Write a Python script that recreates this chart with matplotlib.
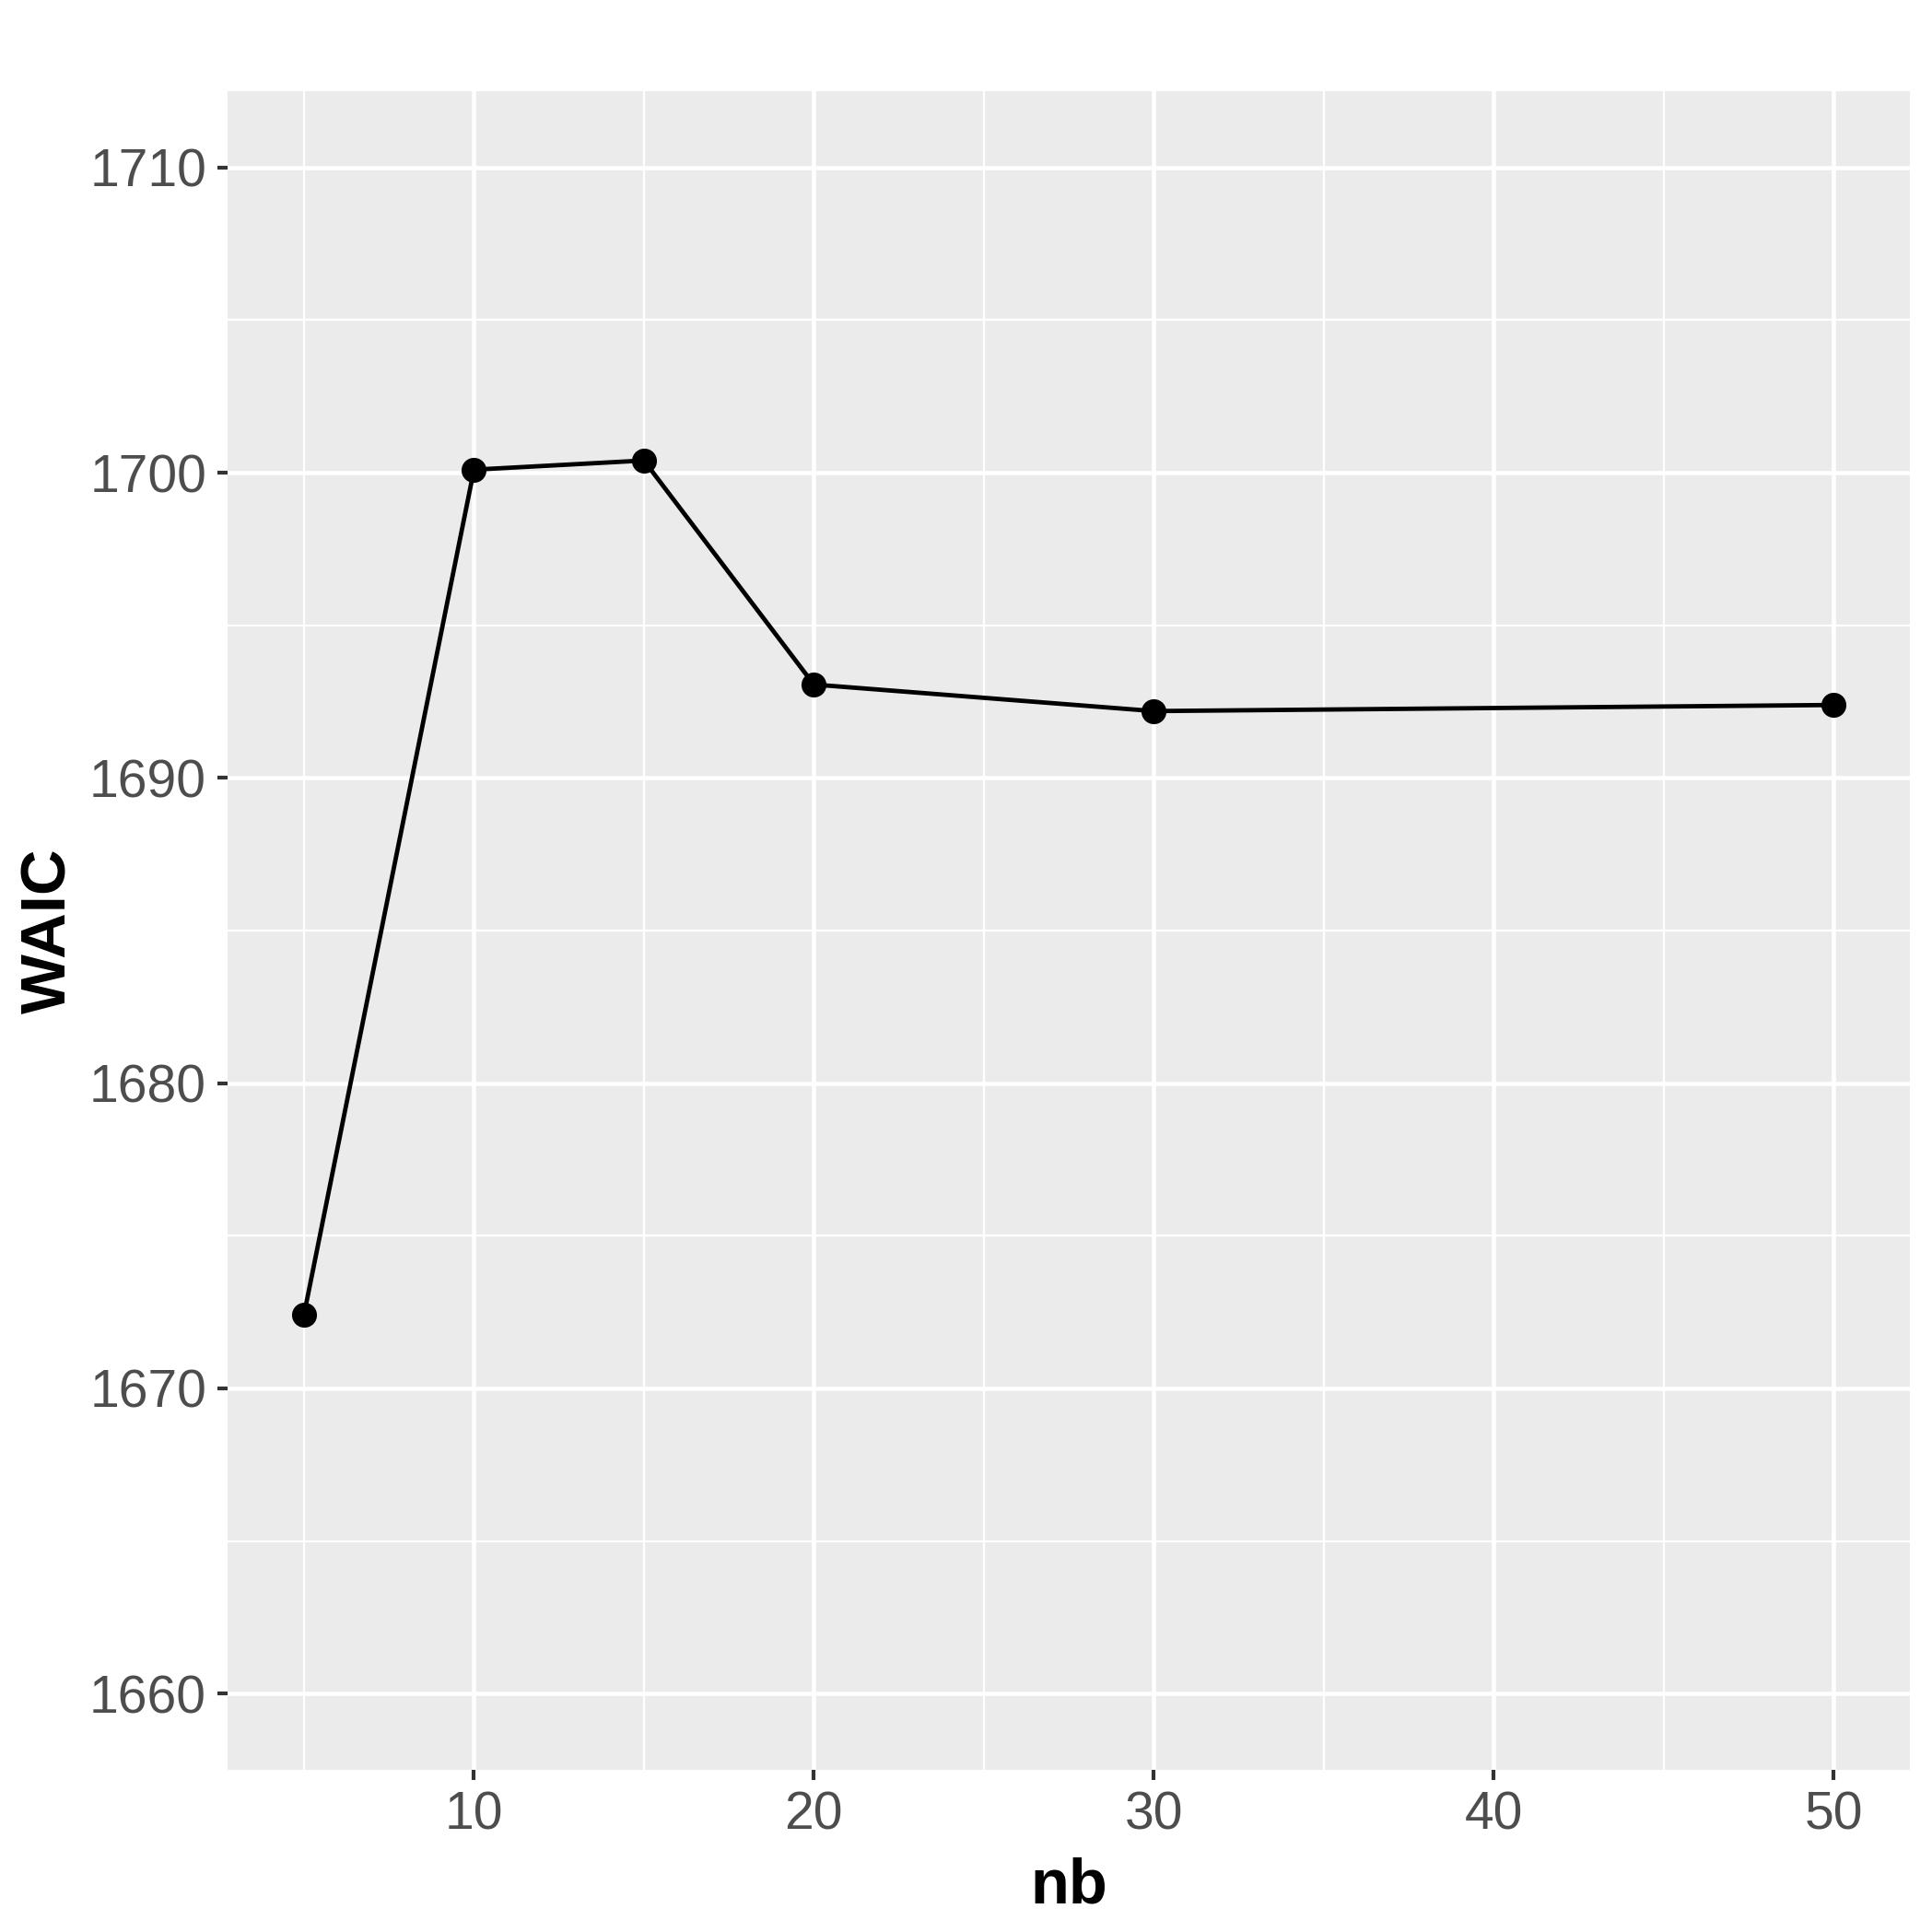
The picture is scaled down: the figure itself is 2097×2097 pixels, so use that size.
import matplotlib
matplotlib.use('Agg')
import matplotlib.pyplot as plt
from matplotlib.ticker import MultipleLocator

# WAIC against number of bins
nb = [5, 10, 15, 20, 30, 50]
waic = [1672.42, 1700.10, 1700.40, 1693.06, 1692.19, 1692.39]

x_ticks = [10, 20, 30, 40, 50]
y_ticks = [1660, 1670, 1680, 1690, 1700, 1710]

plt.rcParams['font.family'] = ['Liberation Sans', 'DejaVu Sans']

fig = plt.figure(figsize=(2097 / 300, 2097 / 300), dpi=300)
ax = fig.add_axes([247 / 2097, 1 - 1921 / 2097, (2073 - 247) / 2097, (1921 - 99) / 2097])

ax.set_facecolor('#EBEBEB')
for s in ax.spines.values():
    s.set_visible(False)

ax.set_xlim(2.75, 52.25)
ax.set_ylim(1657.5, 1712.5)
ax.set_xticks(x_ticks)
ax.set_yticks(y_ticks)
ax.xaxis.set_minor_locator(MultipleLocator(5))
ax.yaxis.set_minor_locator(MultipleLocator(5))
ax.tick_params(which='minor', length=0)
ax.tick_params(which='major', length=2.7, width=1.0, color='#333333',
               labelsize=13.7, labelcolor='#4D4D4D', pad=2.8)

ax.grid(which='major', color='white', linewidth=1.1)
ax.grid(which='minor', color='white', linewidth=0.55)
ax.set_axisbelow(True)

ax.plot(nb, waic, color='black', linewidth=1.15, zorder=3)
ax.plot(nb, waic, 'o', color='black', markersize=5.5, zorder=4)

ax.set_xlabel('nb', fontsize=16.5, fontweight='bold', labelpad=4.3)
ax.set_ylabel('WAIC', fontsize=16.5, fontweight='bold', labelpad=2.8)

fig.savefig('out.png', dpi=300, facecolor='white')
